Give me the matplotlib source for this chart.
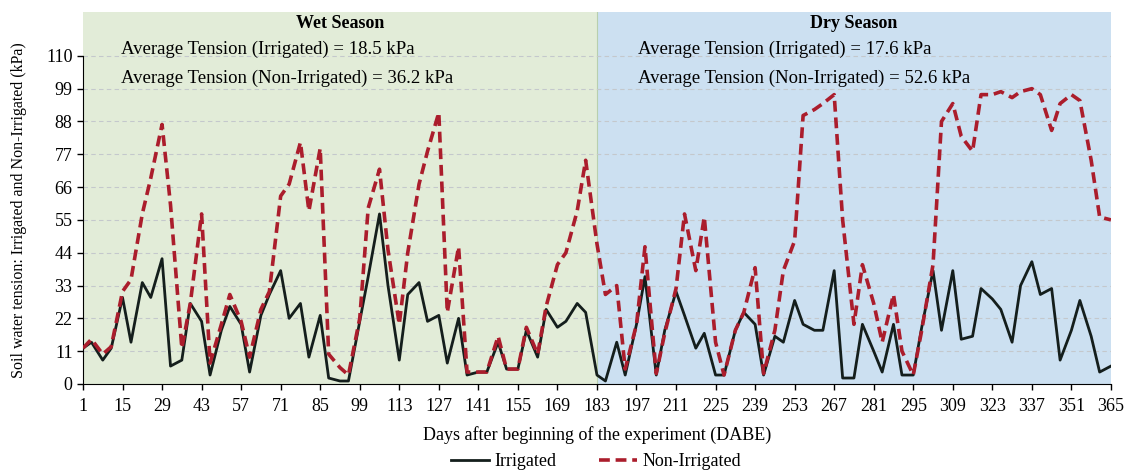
import matplotlib
matplotlib.use('Agg')
import matplotlib.pyplot as plt

plt.rcParams['font.family'] = ['Liberation Serif', 'DejaVu Serif']

# sampling days (twice a week)
days = [1, 4, 8, 11, 15, 18, 22, 25, 29, 32, 36, 39, 43, 46, 50, 53, 57, 60, 64, 67,
        71, 74, 78, 81, 85, 88, 92, 95, 99, 102, 106, 109, 113, 116, 120, 123, 127, 130,
        134, 137, 141, 144, 148, 151, 155, 158, 162, 165, 169, 172, 176, 179, 183, 186,
        190, 193, 197, 200, 204, 207, 211, 214, 218, 221, 225, 228, 232, 235, 239, 242,
        246, 249, 253, 256, 260, 263, 267, 270, 274, 277, 281, 284, 288, 291, 295, 298,
        302, 305, 309, 312, 316, 319, 323, 326, 330, 333, 337, 340, 344, 347, 351, 354,
        358, 361, 365]

irrigated = [12, 14, 8, 12, 29, 14, 34, 29, 42, 6, 8, 27, 21, 3, 18, 26, 20, 4, 23, 30,
             38, 22, 27, 9, 23, 2, 1, 1, 21, 36, 57, 33, 8, 30, 34, 21, 23, 7,
             22, 3, 4, 4, 14, 5, 5, 18, 9, 25, 19, 21, 27, 24, 3, 1,
             14, 3, 20, 36, 3, 18, 31, 23, 12, 17, 3, 3, 18, 24, 20, 3,
             16, 14, 28, 20, 18, 18, 38, 2, 2, 20, 11, 4, 20, 3, 3, 19,
             38, 18, 38, 15, 16, 32, 28.5, 25, 14, 33, 41, 30, 32, 8, 18, 28,
             16, 4, 6]

non_irrigated = [12, 15, 10, 12.5, 31, 35, 57, 69, 87, 60, 12, 27, 57, 7, 20, 30, 21, 9, 25, 31,
                 63, 67, 81, 58, 79, 10, 5.5, 3, 22, 59, 72, 45, 20, 44, 67, 78, 91, 24,
                 46, 4, 4, 4, 16, 5, 5, 19, 10, 26, 40, 44, 58, 75, 47, 30,
                 33, 5, 20, 46, 3.5, 17, 32, 57, 38, 56, 14, 3, 18, 24, 39, 3.5,
                 18, 38, 48, 90, 92, 94, 97, 55, 20, 40, 27, 14, 30, 11, 3, 18,
                 40, 88, 94, 83, 78, 97, 97, 98, 96, 98, 99, 97, 85, 94, 97, 95,
                 75, 56, 55]

season_names = ['Wet Season', 'Dry Season']
season_spans = [(1, 183), (183, 365)]
season_colors = ['#e2ecd8', '#cce0f1']
avg_irr = [18.5, 17.6]
avg_non = [36.2, 52.6]

xticks = list(range(1, 366, 14))
yticks = list(range(0, 111, 11))

fs = 13

fig = plt.figure(figsize=(11.29, 4.70), dpi=100)
ax = fig.add_axes([0.0735, 0.183, 0.9105, 0.7915])

for (x0, x1), c in zip(season_spans, season_colors):
    ax.axvspan(x0, x1, color=c, zorder=0, lw=0)
ax.axvline(183, color='#b8cfae', lw=0.8, zorder=0.5)

for y in yticks[1:]:
    ax.axhline(y, color='#c4c8cc', lw=0.8, ls=(0, (4, 3)), zorder=1)

ax.plot(days, irrigated, color='#141e1c', lw=2, label='Irrigated', zorder=3)
ax.plot(days, non_irrigated, color='#ab1d2c', lw=2.6, ls=(0, (3, 1.6)),
        label='Non-Irrigated', zorder=4)

for i, name in enumerate(season_names):
    x0, x1 = season_spans[i]
    ax.text((x0 + x1) / 2, 120.7, name, ha='center', va='center',
            fontsize=fs, fontweight='bold')
    ax.text(x0 + 13.5 + (1 if i else 0), 112.3,
            'Average Tension (Irrigated) = %.1f kPa' % avg_irr[i],
            ha='left', va='center', fontsize=13.5)
    ax.text(x0 + 13.5 + (1 if i else 0), 102.3,
            'Average Tension (Non-Irrigated) = %.1f kPa' % avg_non[i],
            ha='left', va='center', fontsize=13.5)

ax.set_xlim(1, 365)
ax.set_ylim(0, 124.7)
ax.set_xticks(xticks)
ax.set_yticks(yticks)
ax.tick_params(axis='both', labelsize=fs, direction='out', length=4, width=1)
ax.tick_params(axis='x', pad=6)
ax.spines['top'].set_visible(False)
ax.spines['right'].set_visible(False)
ax.spines['left'].set_bounds(0, 110)

ax.set_xlabel('Days after beginning of the experiment (DABE)', fontsize=fs, labelpad=8)
ax.set_ylabel('Soil water tension: Irrigated and Non-Irrigated (kPa)', fontsize=11.5)
ax.yaxis.set_label_coords(-0.054, 0.468)

fig.legend(loc='lower center', bbox_to_anchor=(0.528, -0.035), ncol=2, frameon=False,
           fontsize=fs, handlelength=2.1, columnspacing=2.4, handletextpad=0.3)

fig.savefig('out.png', dpi=100)
